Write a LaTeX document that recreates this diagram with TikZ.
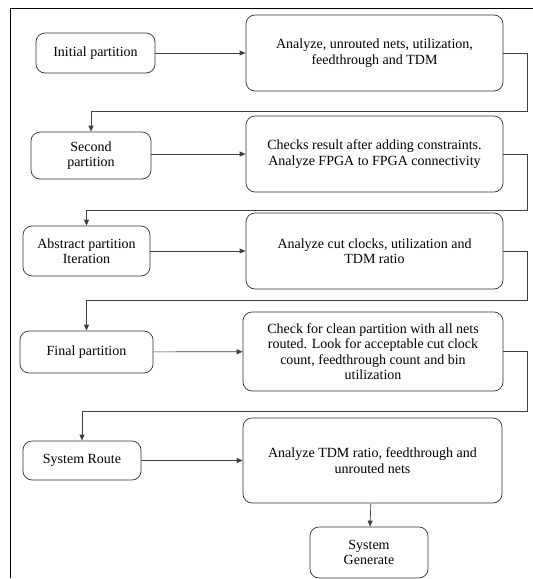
\documentclass[tikz,border=0pt]{standalone}
\usepackage{fontspec}
\setmainfont{Liberation Serif}
\usepackage{tikz}
\usetikzlibrary{arrows.meta}

\tikzset{
  stepbox/.style={draw=black!80, rounded corners=9pt, line width=0.7pt,
    align=center, inner sep=0pt, font=\rmfamily\fontsize{14}{15.5}\selectfont},
  flow/.style={draw=black!75, line width=0.7pt,
    -{Triangle[length=6pt,width=5pt]}}
}

\begin{document}
\begin{tikzpicture}[x=1pt,y=-1pt]
  \useasboundingbox (0,0) rectangle (533,579);

  % Frame
  \draw[line width=0.9pt] (10,578) -- (10,8) -- (533,8);

  % Left column
  \node[stepbox, minimum width=119pt, minimum height=40pt] (init) at (95.5,53) {Initial partition};
  \node[stepbox, minimum width=120pt, minimum height=47pt] (second) at (91,155.5) {Second\\partition};
  \node[stepbox, minimum width=127pt, minimum height=50pt] (abstract) at (86.5,251) {Abstract partition\\Iteration};
  \node[stepbox, minimum width=133pt, minimum height=42pt] (final) at (86.5,352) {Final partition};
  \node[stepbox, minimum width=118pt, minimum height=39pt] (route) at (82,460.5) {System Route};

  % Right column
  \node[stepbox, minimum width=257pt, minimum height=76pt] (ana1) at (374.5,53) {Analyze, unrouted nets, utilization,\\feedthrough and TDM};
  \node[stepbox, minimum width=257pt, minimum height=76pt] (ana2) at (374.5,154) {Checks result after adding constraints.\\Analyze FPGA to FPGA connectivity};
  \node[stepbox, minimum width=257pt, minimum height=76pt] (ana3) at (374.5,251) {Analyze cut clocks, utilization and\\TDM ratio};
  \node[stepbox, minimum width=260pt, minimum height=79pt] (ana4) at (373,351.5) {Check for clean partition with all nets\\routed. Look for acceptable cut clock\\count, feedthrough count and bin\\utilization};
  \node[stepbox, minimum width=259pt, minimum height=85pt] (ana5) at (372.5,460.5) {Analyze TDM ratio, feedthrough and\\unrouted nets};
  \node[stepbox, minimum width=118pt, minimum height=51pt] (generate) at (369,552.5) {System\\Generate};

  % Turn points on the right
  \coordinate (turn1) at (527,111);
  \coordinate (turn2) at (527,210);
  \coordinate (turn3) at (527,300);
  \coordinate (turn4) at (527,411);

  % Arrows
  \draw[flow] (init) -- (ana1);
  \draw[flow] (second.east |- ana2) -- (ana2);
  \draw[flow] (abstract) -- (ana3);
  \draw[flow] (final) -- (ana4);
  \draw[flow] (route) -- (ana5);
  \draw[flow] (ana5) -- (generate);

  \draw[flow] (ana1.east) -| (turn1) -| (second.north);
  \draw[flow] (ana2.east) -| (turn2) -| (abstract.north);
  \draw[flow] (ana3.east) -| (turn3) -| (final.north);
  \draw[flow] (ana4.east) -| (turn4) -| (route.north);
\end{tikzpicture}
\end{document}
